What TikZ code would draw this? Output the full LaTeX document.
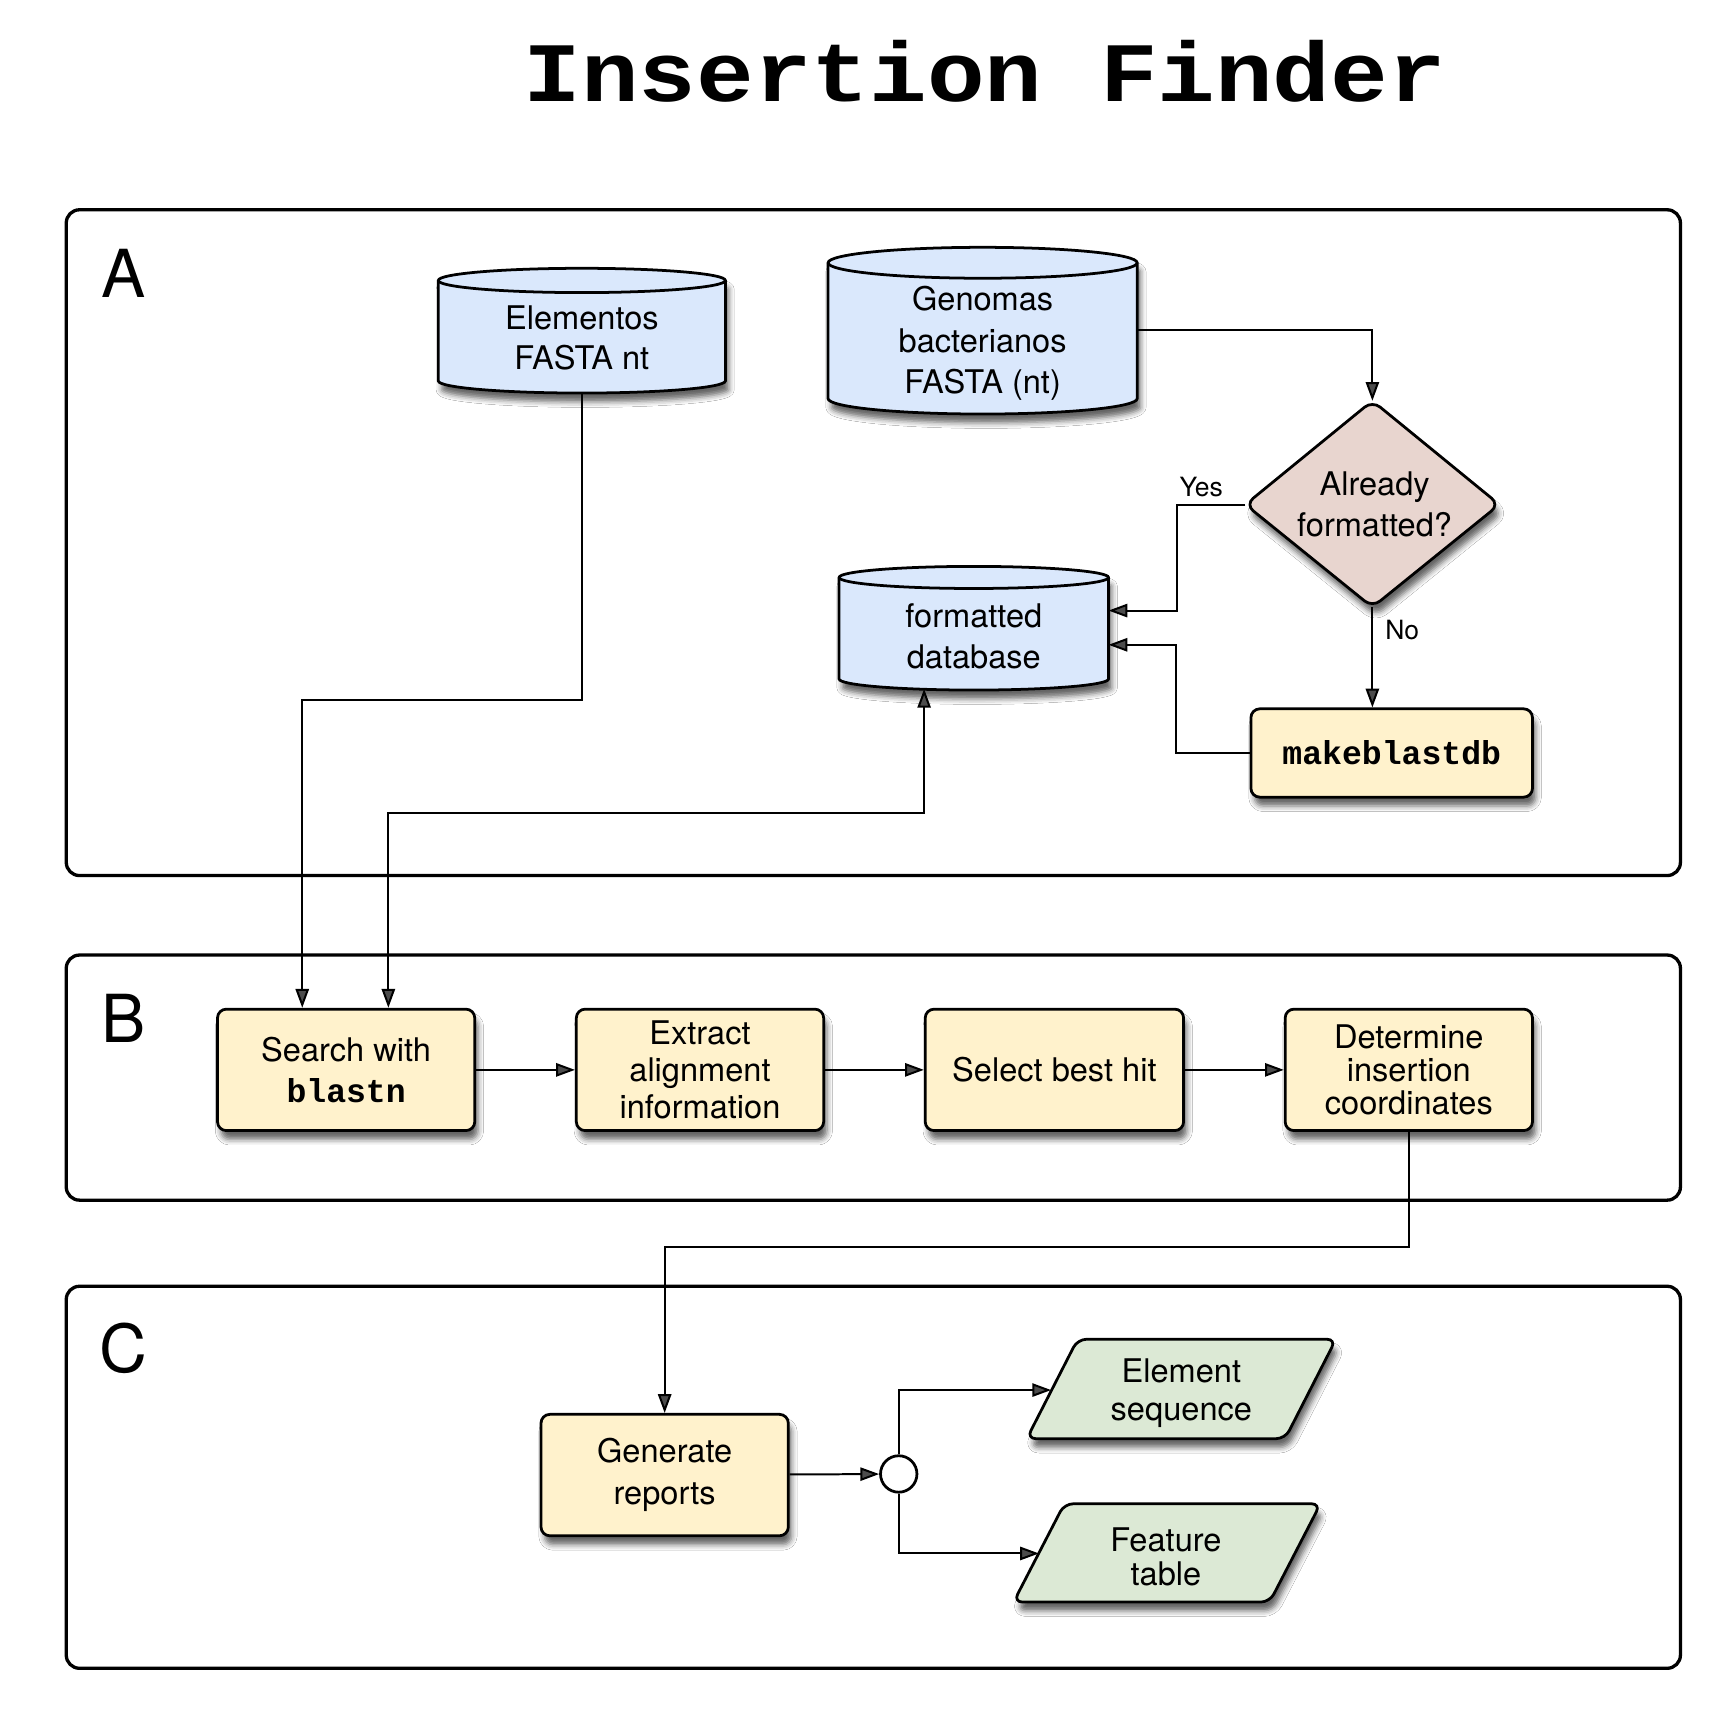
\documentclass[tikz,border=0pt]{standalone}
\usepackage{fontspec}
\setmainfont{TeX Gyre Heros}
\setmonofont{Liberation Mono}
\usetikzlibrary{arrows.meta,shapes.geometric,shadows.blur}
\definecolor{cylfill}{HTML}{DAE8FC}
\definecolor{boxfill}{HTML}{FFF2CC}
\definecolor{diafill}{HTML}{E8D5CF}
\definecolor{parafill}{HTML}{DCE9D5}
\begin{document}
\begin{tikzpicture}[x=1pt,y=-1pt,
  conn/.style={line width=1.8pt,-{Triangle[length=17pt,width=12pt]}},
  biconn/.style={line width=1.8pt,{Triangle[length=17pt,width=12pt]}-{Triangle[length=17pt,width=12pt]}},
  shad/.style={blur shadow={shadow xshift=3pt,shadow yshift=-8pt,shadow blur radius=5pt,shadow opacity=60}},
  frame/.style={draw,line width=3pt,rounded corners=12pt,inner sep=0pt},
  panel/.style={font=\fontsize{60}{60}\selectfont},
  txt/.style={align=center,inner sep=0pt,font=\fontsize{29.5}{37}\selectfont},
  procbox/.style={draw,line width=2.5pt,rounded corners=8pt,fill=boxfill,shad,align=center,inner sep=0pt,font=\fontsize{29.5}{35}\selectfont},
  cylshape/.style={draw,line width=2.5pt,fill=cylfill,shad},
  lbl/.style={inner sep=0pt,font=\fontsize{24}{24}\selectfont},
  mono/.style={font=\fontsize{30}{30}\selectfont\ttfamily\bfseries}]
\useasboundingbox (0,0) rectangle (1559,1566);
\fill[white] (0,0) rectangle (1559,1566);

% title
\node[anchor=base,inner sep=0pt,font=\fontsize{87}{87}\selectfont\ttfamily\bfseries,yscale=0.88,transform shape] (title) at (892,92) {Insertion Finder};

% frames
\node[frame,minimum width=1462pt,minimum height=603pt] (frameA) at (791,491.5) {};
\node[frame,minimum width=1462pt,minimum height=222pt] (frameB) at (791,976) {};
\node[frame,minimum width=1462pt,minimum height=346pt] (frameC) at (791,1338) {};
\node[panel] (labA) at (112,248) {A};
\node[panel] (labB) at (112,922) {B};
\node[panel] (labC) at (112,1221) {C};

% cylinders
\path[cylshape] (397,254) -- (397,345) arc[start angle=180,end angle=360,x radius=130pt,y radius=11pt] -- (657,254) arc[start angle=0,end angle=180,x radius=130pt,y radius=11pt] -- cycle;
\draw[line width=2.5pt] (397,254) arc[start angle=180,end angle=360,x radius=130pt,y radius=11pt];
\node[txt] (elem) at (527,306) {Elementos\\FASTA nt};
\coordinate (elem-b) at (527,356);

\path[cylshape] (750,238) -- (750,361) arc[start angle=180,end angle=360,x radius=140pt,y radius=14pt] -- (1030,238) arc[start angle=0,end angle=180,x radius=140pt,y radius=14pt] -- cycle;
\draw[line width=2.5pt] (750,238) arc[start angle=180,end angle=360,x radius=140pt,y radius=14pt];
\node[txt,font=\fontsize{29.5}{37.5}\selectfont] (gen) at (890,311) {Genomas\\bacterianos\\FASTA (nt)};
\coordinate (gen-r) at (1030,299);

\path[cylshape] (760,523) -- (760,615) arc[start angle=180,end angle=360,x radius=122pt,y radius=10pt] -- (1004,523) arc[start angle=0,end angle=180,x radius=122pt,y radius=10pt] -- cycle;
\draw[line width=2.5pt] (760,523) arc[start angle=180,end angle=360,x radius=122pt,y radius=10pt];
\node[txt] (db) at (882,576) {formatted\\database};
\coordinate (db-r1) at (1004,553);
\coordinate (db-r2) at (1004,584);
\coordinate (db-b) at (837,624);

% diamond
\coordinate (dtop) at (1243,363);
\coordinate (dright) at (1358,457);
\coordinate (dbot) at (1243,550);
\coordinate (dleft) at (1128,457);
\path[draw,line width=2.5pt,fill=diafill,rounded corners=9pt,shad] (dtop) -- (dright) -- (dbot) -- (dleft) -- cycle;
\node[txt] (dia) at (1245,457) {Already\\formatted?};

% makeblastdb
\node[procbox,minimum width=255pt,minimum height=80pt,mono] (mkdb) at (1260.5,682) {makeblastdb};

% row B
\node[procbox,minimum width=233pt,minimum height=110pt] (search) at (313.5,969) {Search with\\[2pt]{\fontsize{30}{30}\selectfont\ttfamily\bfseries blastn}};
\node[procbox,minimum width=224pt,minimum height=110pt,font=\fontsize{29.5}{33.5}\selectfont] (extract) at (634,969) {Extract\\alignment\\information};
\node[procbox,minimum width=234pt,minimum height=110pt] (select) at (955,969) {Select best hit};
\node[procbox,minimum width=224pt,minimum height=110pt,font=\fontsize{29.5}{30}\selectfont] (determine) at (1276,969) {Determine\\insertion\\coordinates};

% row C
\node[procbox,minimum width=224pt,minimum height=110pt,font=\fontsize{29.5}{38}\selectfont] (generate) at (602,1336) {Generate\\reports};
\node[circle,draw,line width=2.5pt,fill=white,minimum size=33pt,inner sep=0pt] (junc) at (814,1335) {};

\path[draw,line width=2.5pt,fill=parafill,rounded corners=8pt,shad] (930,1303) -- (976,1213) -- (1210,1213) -- (1164,1303) -- cycle;
\node[txt,font=\fontsize{29.5}{34}\selectfont] (elseq) at (1070,1262) {Element\\sequence};
\coordinate (es-in) at (952,1259);

\path[draw,line width=2.5pt,fill=parafill,rounded corners=8pt,shad] (918,1451) -- (964,1362) -- (1196,1362) -- (1150,1451) -- cycle;
\node[txt,font=\fontsize{29.5}{31}\selectfont] (ftab) at (1056,1410) {Feature\\table};
\coordinate (ft-in) at (941,1407);

% connectors
\draw[conn] (elem-b) -- ++(0,278) -| ([xshift=78pt]search.north west);
\draw[biconn] ([xshift=156pt]search.north west) -- ++(0,-176) -| (db-b);
\draw[conn] (gen-r) -| (dtop);
\draw[conn] (dleft) -- ++(-62,0) |- (db-r1);
\node[lbl] (yes) at (1088,441) {Yes};
\draw[conn] (dbot) -- (dbot |- mkdb.north);
\node[lbl] (no) at (1270,571) {No};
\draw[conn] (mkdb.west) -- ++(-67,0) |- (db-r2);
\draw[conn] (search) -- (extract);
\draw[conn] (extract) -- (select);
\draw[conn] (select) -- (determine);
\draw[conn] (determine.south) -- ++(0,104) -| (generate.north);
\draw[conn] (generate) -- (junc);
\draw[conn] (junc.north) |- (es-in);
\draw[conn] (junc.south) |- (ft-in);
\end{tikzpicture}
\end{document}
